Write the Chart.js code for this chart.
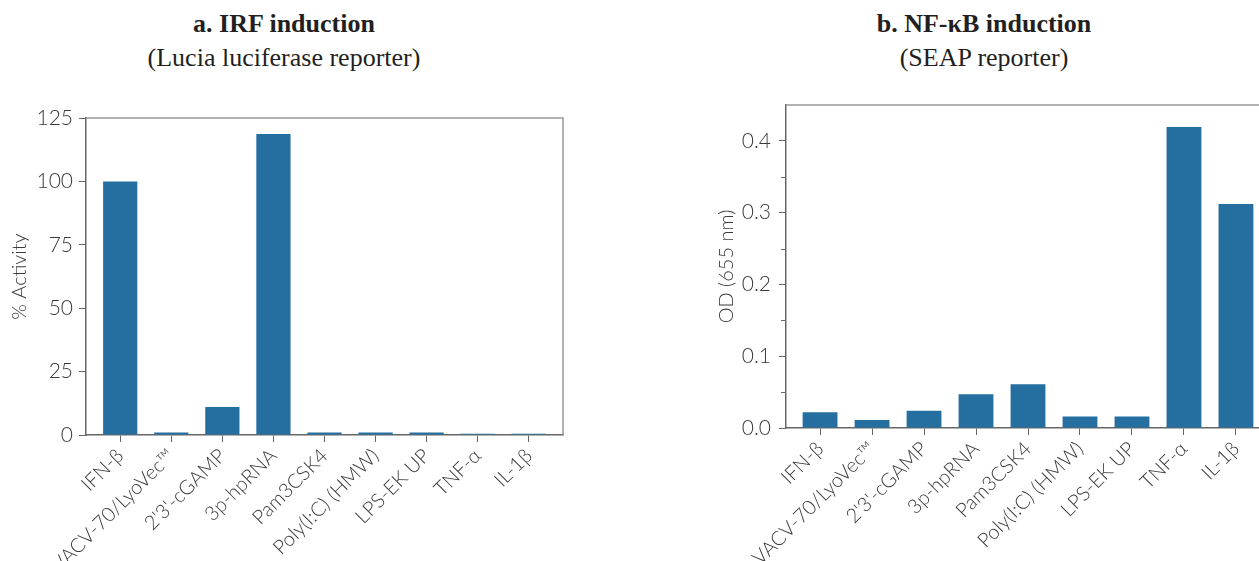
<!DOCTYPE html>
<html>
<head>
<meta charset="utf-8">
<script src="https://cdn.jsdelivr.net/npm/chart.js@4.4.1/dist/chart.umd.min.js"></script>
<style>
  html, body { margin: 0; padding: 0; background: #fff; overflow: hidden; width: 1259px; height: 561px; }
  .title { position: absolute; top: 7px; text-align: center; font-family: "Liberation Serif", "Times New Roman", serif; color: #231f20; font-size: 26px; line-height: 34px; }
  .title b { font-weight: bold; }
  canvas { position: absolute; }
</style>
</head>
<body>
<div class="title" style="left:0;width:568px;"><b>a. IRF induction</b><br>(Lucia luciferase reporter)</div>
<div class="title" style="left:700px;width:568px;"><b>b. NF-κB induction</b><br>(SEAP reporter)</div>
<canvas id="irfChart" width="580" height="461" style="left:0;top:100px;"></canvas>
<canvas id="nfkbChart" width="600" height="471" style="left:700px;top:90px;"></canvas>
<script>
const categories = ['IFN-β', 'VACV-70/LyoVec™', "2'3'-cGAMP", '3p-hpRNA', 'Pam3CSK4', 'Poly(I:C) (HMW)', 'LPS-EK UP', 'TNF-α', 'IL-1β'];
const irfActivity = [100, 1, 11, 118.7, 1, 1, 1, 0.5, 0.5];
const nfkbOD = [0.022, 0.011, 0.024, 0.047, 0.061, 0.016, 0.016, 0.4195, 0.312];
const irfTicks = [0, 25, 50, 75, 100, 125];
const odTicks = [0, 0.1, 0.2, 0.3, 0.4];
const odMinorTicks = [0.05, 0.15, 0.25, 0.35];

const barColor = '#246fa0';
const axisColor = '#666';
const textColor = '#3a3a3a';

// top + right border of the plot box
const framePlugin = {
    id: 'frame',
    afterDraw(chart) {
        const { ctx, chartArea: a } = chart;
        ctx.save();
        ctx.strokeStyle = '#999';
        ctx.lineWidth = 1.5;
        ctx.beginPath();
        ctx.moveTo(a.left, a.top);
        ctx.lineTo(a.right, a.top);
        ctx.lineTo(a.right, a.bottom);
        ctx.stroke();
        ctx.restore();
    }
};

// short unlabelled ticks between the main ones
const minorTickPlugin = {
    id: 'minorTicks',
    afterDraw(chart, args, opts) {
        if (!opts.values) return;
        const { ctx } = chart;
        const y = chart.scales.y;
        ctx.save();
        ctx.strokeStyle = axisColor;
        ctx.lineWidth = 1;
        opts.values.forEach(v => {
            const py = Math.round(y.getPixelForValue(v)) + 0.5;
            ctx.beginPath();
            ctx.moveTo(y.right - 5, py);
            ctx.lineTo(y.right, py);
            ctx.stroke();
        });
        ctx.restore();
    }
};

function makeChart(id, values, opts) {
    const canvas = document.getElementById(id);
    return new Chart(canvas, {
        type: 'bar',
        data: {
            datasets: [{
                data: values.map((v, i) => ({ x: i, y: v })),
                backgroundColor: barColor,
                borderWidth: 0,
                barPercentage: 0.67,
                categoryPercentage: 1
            }]
        },
        options: {
            responsive: false,
            animation: false,
            devicePixelRatio: 1,
            layout: { autoPadding: false, padding: { top: opts.padTop, right: opts.padRight, left: 0, bottom: 0 } },
            plugins: {
                legend: { display: false },
                tooltip: { enabled: false },
                minorTicks: { values: opts.minor }
            },
            scales: {
                x: {
                    type: 'linear',
                    offset: false,
                    min: -opts.pad,
                    max: categories.length - 1 + opts.pad,
                    afterBuildTicks: s => { s.ticks = categories.map((_, i) => ({ value: i })); },
                    afterFit: s => { s.height = opts.xHeight; s.paddingLeft = 0; s.paddingRight = 0; },
                    ticks: {
                        autoSkip: false,
                        minRotation: 45,
                        maxRotation: 45,
                        padding: 2,
                        color: textColor,
                        font: { family: 'Lato', size: 20, weight: '300' },
                        callback: v => categories[v]
                    },
                    grid: { offset: false, drawOnChartArea: false, tickLength: 7, color: axisColor },
                    border: { color: axisColor, width: 1.5 }
                },
                y: {
                    min: 0,
                    max: opts.yMax,
                    afterBuildTicks: s => { s.ticks = opts.yTicks.map(v => ({ value: v })); },
                    afterFit: s => { s.width = 86; s.paddingTop = 0; s.paddingBottom = 0; },
                    ticks: {
                        padding: opts.labelPad,
                        color: textColor,
                        font: { family: 'Lato', size: 21, weight: '300' },
                        callback: opts.fmt
                    },
                    grid: { drawOnChartArea: false, tickLength: 7, color: axisColor },
                    border: { color: axisColor, width: 1.5 },
                    title: {
                        display: true,
                        text: opts.yTitle,
                        color: textColor,
                        font: { family: 'Lato', size: 20, weight: '300' },
                        padding: { top: opts.titlePad, bottom: 0 }
                    }
                }
            }
        },
        plugins: [framePlugin, minorTickPlugin]
    });
}

makeChart('irfChart', irfActivity, {
    padTop: 18, padRight: 17, xHeight: 126, pad: 0.67,
    yMax: 125, yTicks: irfTicks, fmt: v => String(v),
    yTitle: '% Activity', titlePad: 8, labelPad: 6, minor: null
});

makeChart('nfkbChart', nfkbOD, {
    padTop: 15, padRight: 30, xHeight: 133, pad: 0.655,
    yMax: 0.45, yTicks: odTicks, fmt: v => v.toFixed(1),
    yTitle: 'OD (655 nm)', titlePad: 15, labelPad: 8, minor: odMinorTicks
});
</script>
</body>
</html>
